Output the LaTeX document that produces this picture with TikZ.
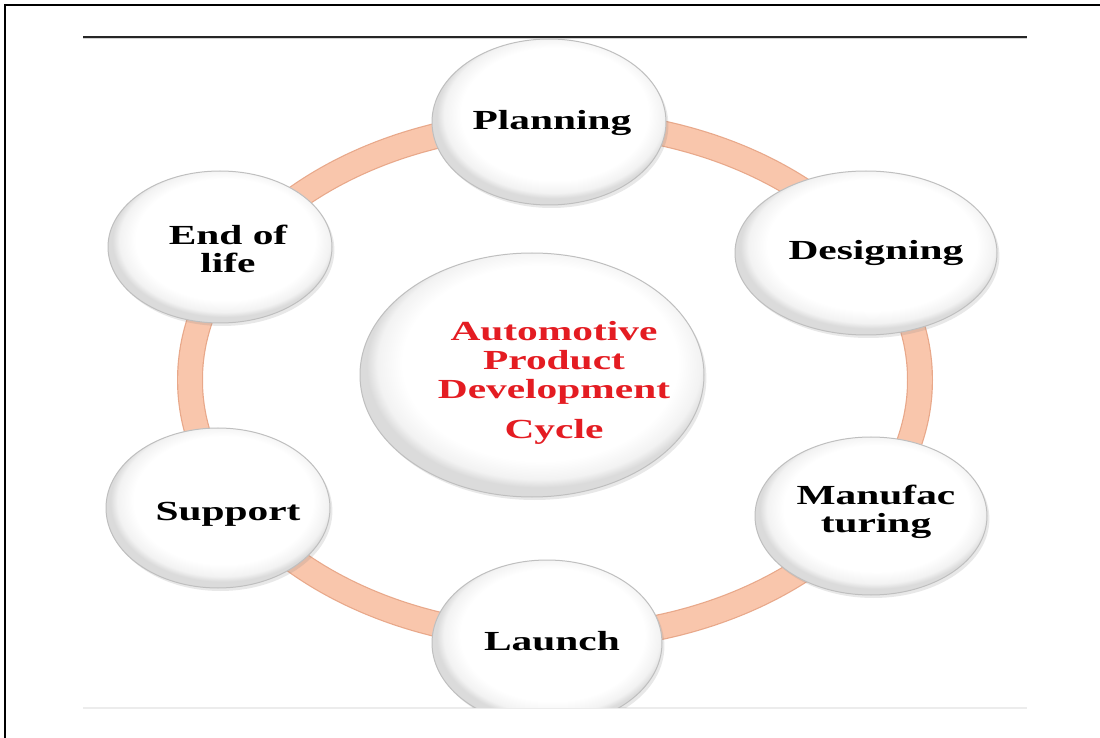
\documentclass[tikz,border=0pt]{standalone}
\usepackage{fontspec}
\setmainfont{Liberation Serif}
\usetikzlibrary{shapes.geometric,shadows}
\definecolor{ringfill}{RGB}{249,198,172}
\definecolor{ringedge}{RGB}{232,168,138}
\definecolor{cred}{RGB}{228,28,34}
\pgfdeclareradialshading{bubshade}{\pgfpoint{2bp}{4bp}}{color(0bp)=(white); color(20bp)=(white); color(23.5bp)=(black!5); color(25bp)=(black!14); color(50bp)=(black!14)}
\newcommand\sx[1]{\scalebox{1.5}[1]{\begin{tabular}{@{}c@{}}#1\end{tabular}}}
\begin{document}
\begin{tikzpicture}[x=0.5pt,y=-0.5pt,
  bubble/.style={ellipse, draw=gray!50, line width=0.5pt, inner sep=0pt,
    shading=bubshade,
    drop shadow={shadow xshift=1.2pt, shadow yshift=-1.5pt, opacity=0.18}},
  lbl/.style={font=\fontsize{13.8pt}{14pt}\selectfont\bfseries, inner sep=0pt, text=black},
  clbl/.style={font=\fontsize{13.8pt}{14.5pt}\selectfont\bfseries, inner sep=0pt, text=cred}]
\useasboundingbox (0,0) rectangle (1100,738);
\fill[white] (0,0) rectangle (1100,738);
% frame
\draw[line width=1.4pt] (4,5) -- (1100,5);
\draw[line width=1.4pt] (5,4) -- (5,738);
\draw[gray!35, line width=1pt] (83,38.5) -- (1027,38.5);
\draw[black!85, line width=0.6pt] (83,37) -- (1027,37);
\draw[gray!15, line width=0.6pt] (83,708) -- (1027,708);
\begin{scope}
\clip (0,38) rectangle (1100,707.5);
\coordinate (ringc) at (555,380);
\draw[ringedge, line width=13pt] (ringc) ellipse [x radius=182.5pt, y radius=129pt];
\draw[ringfill, line width=11.8pt] (ringc) ellipse [x radius=182.5pt, y radius=129pt];
\node[bubble, minimum width=117pt, minimum height=83pt,
  label={[lbl, xshift=1.5pt, yshift=-1.2pt]center:{\sx{Planning}}}] (plan) at (549,122) {};
\node[bubble, minimum width=131pt, minimum height=82pt,
  label={[lbl, xshift=5pt, yshift=-0.7pt]center:{\sx{Designing}}}] (design) at (866,253) {};
\node[bubble, minimum width=116pt, minimum height=79pt,
  label={[lbl, xshift=2.5pt, yshift=1.5pt]center:{\sx{Manufac\\turing}}}] (manuf) at (871,516) {};
\node[bubble, minimum width=115pt, minimum height=83pt,
  label={[lbl, xshift=2.5pt, yshift=-0.7pt]center:{\sx{Launch}}}] (launch) at (547,643) {};
\node[bubble, minimum width=112pt, minimum height=80pt,
  label={[lbl, xshift=5pt, yshift=-3.2pt]center:{\sx{Support}}}] (support) at (218,508) {};
\node[bubble, minimum width=112pt, minimum height=76pt,
  label={[lbl, xshift=4pt, yshift=-3.2pt]center:{\sx{End of\\life}}}] (eol) at (220,247) {};
\node[bubble, minimum width=172pt, minimum height=122pt,
  label={[clbl, xshift=11pt, yshift=-4.6pt]center:{\sx{Automotive\\Product\\Development\\[5.5pt]Cycle}}}] (core) at (532,375) {};
\end{scope}
\end{tikzpicture}
\end{document}
